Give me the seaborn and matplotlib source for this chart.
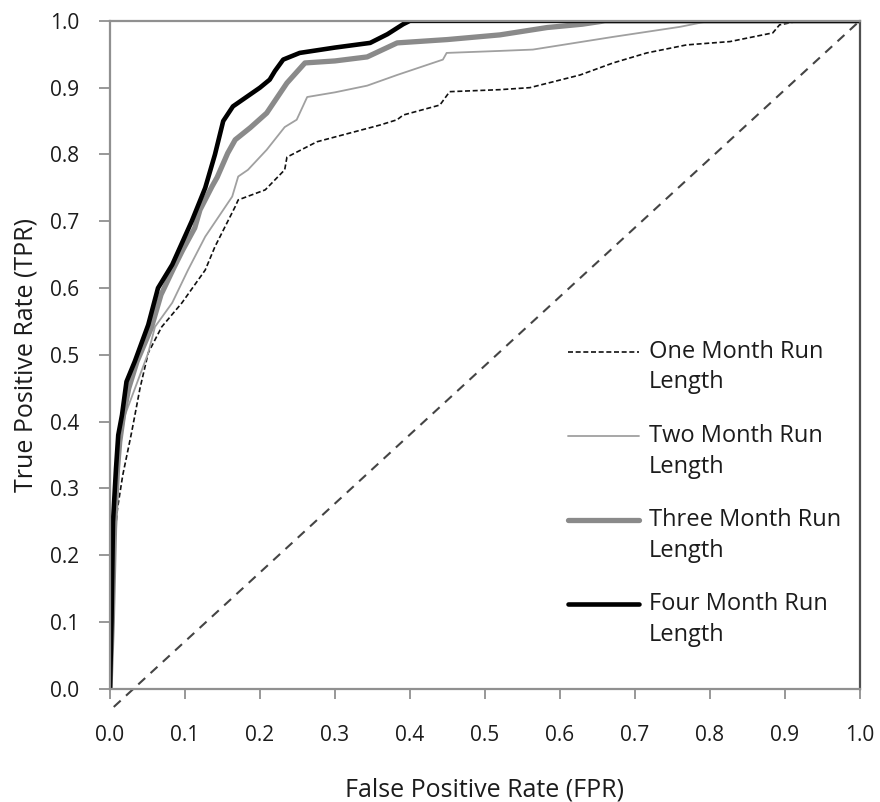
import numpy as np
import pandas as pd
import matplotlib
matplotlib.use("Agg")
import matplotlib.pyplot as plt
from matplotlib.legend_handler import HandlerLine2D
from matplotlib.lines import Line2D
import seaborn as sns

# ROC curve points
one_fpr = [0, 0.004, 0.01, 0.017, 0.029, 0.04, 0.051, 0.069, 0.096, 0.127, 0.14, 0.167, 0.171,
           0.207, 0.233, 0.236, 0.276, 0.36, 0.383, 0.391, 0.44, 0.453, 0.52, 0.56, 0.627, 0.671,
           0.716, 0.769, 0.827, 0.884, 0.893, 0.92, 1.0]
one_tpr = [0, 0.2, 0.27, 0.32, 0.385, 0.45, 0.503, 0.542, 0.578, 0.627, 0.662, 0.722, 0.732,
           0.747, 0.777, 0.796, 0.819, 0.844, 0.852, 0.859, 0.874, 0.894, 0.897, 0.9, 0.919, 0.937,
           0.952, 0.964, 0.969, 0.982, 0.994, 1.0, 1.0]

two_fpr = [0, 0.003, 0.007, 0.012, 0.02, 0.03, 0.04, 0.051, 0.06, 0.083, 0.104, 0.127, 0.163,
           0.171, 0.184, 0.209, 0.233, 0.249, 0.263, 0.3, 0.343, 0.383, 0.444, 0.449, 0.52, 0.564,
           0.671, 0.76, 0.8, 1.0]
two_tpr = [0, 0.25, 0.31, 0.36, 0.41, 0.44, 0.47, 0.503, 0.542, 0.578, 0.627, 0.677, 0.737,
           0.767, 0.777, 0.807, 0.841, 0.852, 0.886, 0.893, 0.903, 0.919, 0.942, 0.952, 0.955, 0.957,
           0.976, 0.991, 1.0, 1.0]

three_fpr = [0, 0.003, 0.006, 0.01, 0.013, 0.018, 0.025, 0.036, 0.055, 0.068, 0.085, 0.097, 0.113,
             0.12, 0.136, 0.143, 0.157, 0.167, 0.187, 0.209, 0.236, 0.26, 0.3, 0.343, 0.383, 0.45,
             0.52, 0.583, 0.63, 0.66, 1.0]
three_tpr = [0, 0.1, 0.24, 0.33, 0.37, 0.41, 0.45, 0.49, 0.54, 0.59, 0.63, 0.657, 0.69,
             0.717, 0.752, 0.766, 0.802, 0.822, 0.84, 0.862, 0.907, 0.937, 0.94, 0.946, 0.967, 0.972,
             0.979, 0.99, 0.995, 1.0, 1.0]

four_fpr = [0, 0.002, 0.004, 0.008, 0.011, 0.016, 0.022, 0.033, 0.051, 0.064, 0.083, 0.109, 0.127,
            0.14, 0.151, 0.164, 0.2, 0.213, 0.22, 0.231, 0.253, 0.3, 0.347, 0.37, 0.391, 0.4, 1.0]
four_tpr = [0, 0.1, 0.25, 0.33, 0.38, 0.41, 0.46, 0.49, 0.545, 0.60, 0.635, 0.70, 0.75,
            0.80, 0.85, 0.872, 0.90, 0.912, 0.925, 0.942, 0.952, 0.96, 0.967, 0.98, 0.995, 1.0, 1.0]

chance_fpr = [0.005, 1.0]
chance_tpr = [-0.027, 1.0]

labels = ["One Month Run\nLength", "Two Month Run\nLength",
          "Three Month Run\nLength", "Four Month Run\nLength"]
ticks = [round(0.1 * i, 1) for i in range(11)]


class FirstLineHandler(HandlerLine2D):
    """Put the legend line next to the first line of a two-line label."""
    def __init__(self, shift, **kw):
        super().__init__(**kw)
        self.shift = shift

    def create_artists(self, legend, orig_handle, xdescent, ydescent, width, height, fontsize, trans):
        artists = super().create_artists(legend, orig_handle, xdescent, ydescent,
                                         width, height, fontsize, trans)
        for a in artists:
            a.set_ydata(np.asarray(a.get_ydata()) + self.shift)
        return artists


sns.set_style("white")
plt.rcParams["font.family"] = ["Open Sans", "DejaVu Sans"]
text_col = "#1c1c1c"

fig = plt.figure(figsize=(8.8, 8.02), dpi=100)
ax = fig.add_axes([0.125, 0.141, 0.852, 0.833])

# line styles per series: (color, width, dashes)
styles = [("#111111", 1.2, (3, 1.6)),
          ("#a0a0a0", 1.3, None),
          ("#8a8a8a", 3.8, None),
          ("#000000", 3.3, None)]
series = [(one_fpr, one_tpr), (two_fpr, two_tpr), (three_fpr, three_tpr), (four_fpr, four_tpr)]

for (fpr, tpr), lab, (col, lw, dash) in zip(series, labels, styles):
    df = pd.DataFrame({"fpr": fpr, "tpr": tpr})
    line_kw = dict(color=col, linewidth=lw, label=lab)
    if dash is not None:
        line_kw["linestyle"] = (0, dash)
    sns.lineplot(data=df, x="fpr", y="tpr", ax=ax, estimator=None, sort=False, **line_kw)

chance = pd.DataFrame({"fpr": chance_fpr, "tpr": chance_tpr})
sns.lineplot(data=chance, x="fpr", y="tpr", ax=ax, estimator=None, sort=False,
             color="#444444", linewidth=1.5, linestyle=(0, (4.5, 3.5)), clip_on=False)

ax.set_xlim(0, 1)
ax.set_ylim(0, 1)
ax.set_xticks(ticks)
ax.set_yticks(ticks)
ax.set_xticklabels([f"{t:.1f}" for t in ticks])
ax.set_yticklabels([f"{t:.1f}" for t in ticks])
ax.tick_params(axis="x", direction="out", length=7, width=1.3, color="#909090",
               pad=19, labelsize=15, labelcolor=text_col, bottom=True)
ax.tick_params(axis="y", direction="out", length=8, width=1.3, color="#909090",
               pad=14, labelsize=15, labelcolor=text_col, left=True)

for side in ["left", "bottom", "top"]:
    ax.spines[side].set_color("#909090")
    ax.spines[side].set_linewidth(1.6)
ax.spines["right"].set_color("#505050")
ax.spines["right"].set_linewidth(1.6)

ax.set_xlabel("False Positive Rate (FPR)", fontsize=18, color=text_col)
ax.set_ylabel("True Positive Rate (TPR)", fontsize=18, color=text_col)
ax.xaxis.set_label_coords(0.5, -0.132)
ax.yaxis.set_label_coords(-0.096, 0.5)

leg = ax.legend(loc="upper left", bbox_to_anchor=(0.611, 0.522), frameon=False, fontsize=17,
                handlelength=3.0, handletextpad=0.42, labelspacing=1.26, borderpad=0,
                borderaxespad=0, labelcolor=text_col,
                handler_map={Line2D: FirstLineHandler(shift=11.5)})
for t in leg.get_texts():
    t.set_linespacing(1.35)

fig.savefig("out.png", dpi=100)
